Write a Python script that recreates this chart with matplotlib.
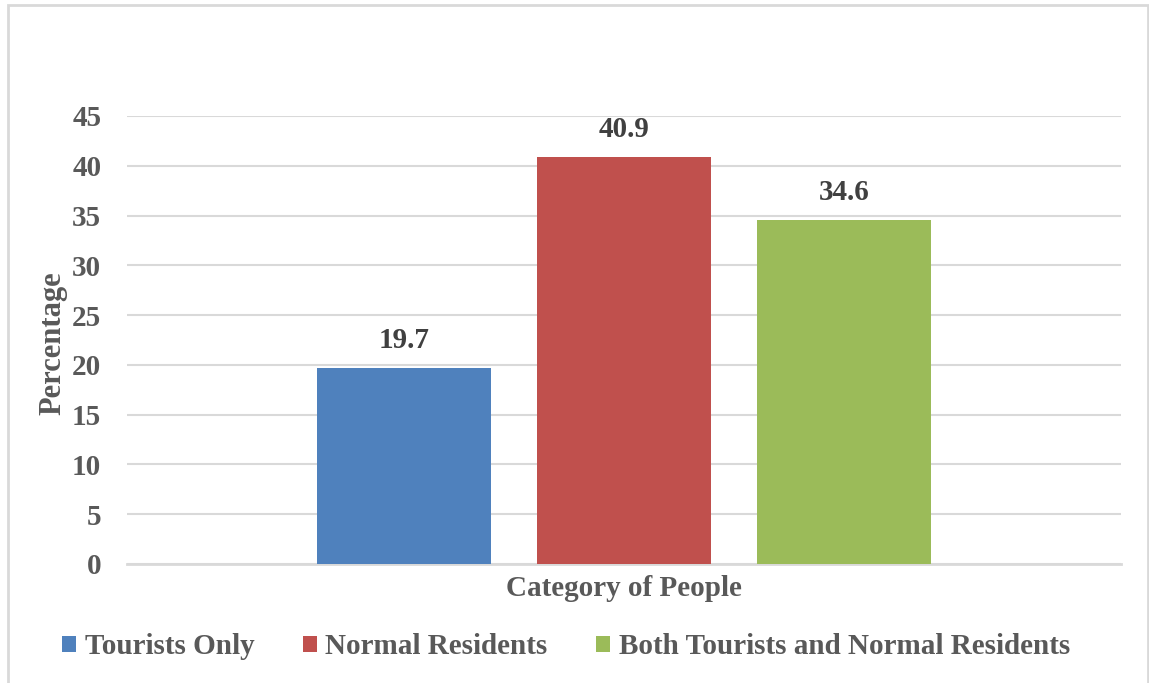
import matplotlib.pyplot as plt
from matplotlib.patches import Rectangle

# data
series = ["Tourists Only", "Normal Residents", "Both Tourists and Normal Residents"]
values = [19.7, 40.9, 34.6]
colors = ["#4f81bd", "#c0504d", "#9bbb59"]
yticks = [0, 5, 10, 15, 20, 25, 30, 35, 40, 45]

plt.rcParams['font.family'] = ['Liberation Serif', 'DejaVu Serif']
plt.rcParams['font.weight'] = 'bold'

fig = plt.figure(figsize=(11.49, 6.83), dpi=100)
ax = fig.add_axes([127 / 1149, 1 - 564 / 683, 994 / 1149, 448 / 683])

xpos = [-1, 0, 1]
for x, v, c, s in zip(xpos, values, colors, series):
    ax.bar(x, v, width=0.79, color=c, label=s, zorder=3)
    ax.text(x, v + 1.35, "%.1f" % v, ha='center', va='bottom',
            fontsize=21, fontweight='bold', color='#404040')

ax.set_xlim(-2.259, 2.259)
ax.set_ylim(0, 45)
ax.set_yticks(yticks)
ax.set_xticks([])
ax.tick_params(axis='y', length=0, pad=18.5, labelsize=21, labelcolor='#595959')
ax.grid(axis='y', color='#d9d9d9', linewidth=1.5, zorder=0)
for sp in ['top', 'right', 'left']:
    ax.spines[sp].set_visible(False)
ax.spines['bottom'].set_color('#d9d9d9')
ax.spines['bottom'].set_linewidth(2)

ax.set_ylabel("Percentage", fontsize=22, fontweight='bold', color='#595959')
ax.yaxis.set_label_coords((67 - 127) / 994, (564 - 343) / 448)
ax.set_xlabel("Category of People", fontsize=21, fontweight='bold',
              color='#595959', labelpad=8)

fig.legend(loc='center', bbox_to_anchor=(566 / 1149, 1 - 647 / 683), ncol=3,
           frameon=False, fontsize=21, handlelength=0.48, handleheight=0.48,
           handletextpad=0.3, columnspacing=1.65,
           labelcolor='#595959')

# outer chart border
fig.patches.append(Rectangle((8 / 1149, -0.05), 1140 / 1149, 1.05 - 5 / 683,
                             transform=fig.transFigure, fill=False,
                             edgecolor='#d9d9d9', linewidth=2))

fig.savefig("out.png", dpi=100, facecolor='white')
